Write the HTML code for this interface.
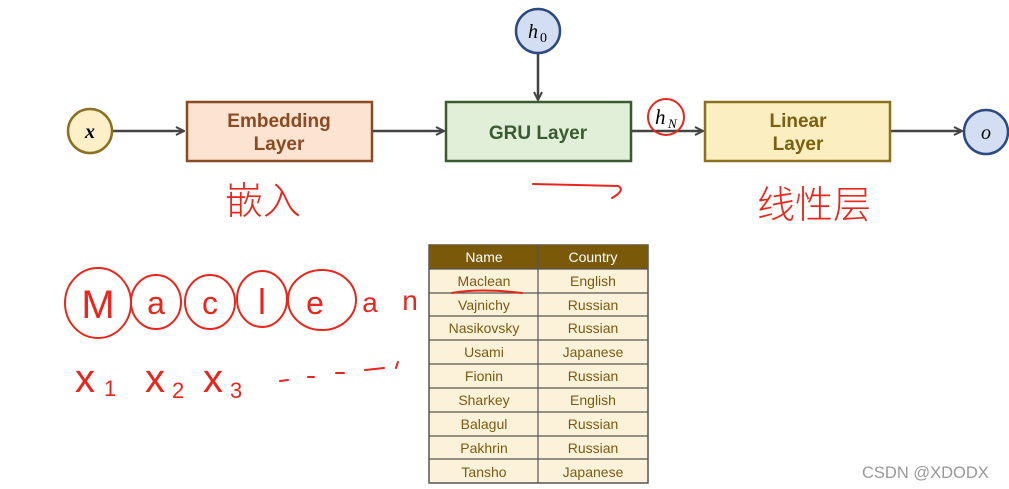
<!DOCTYPE html>
<html><head><meta charset="utf-8"><style>
html,body{margin:0;padding:0;background:#fff;}
svg{display:block;}
.box{font-family:"Liberation Sans","DejaVu Sans",sans-serif;font-weight:bold;font-size:19px;}
.tb{font-family:"Liberation Sans","DejaVu Sans",sans-serif;font-size:14px;fill:#7a5a10;}
.r{fill:none;stroke:#e8261c;stroke-width:2;stroke-linecap:round;stroke-linejoin:round;}
.rt{font-family:"Liberation Sans",sans-serif;fill:#e8261c;}
</style></head><body>
<svg width="1009" height="489" viewBox="0 0 1009 489" xmlns="http://www.w3.org/2000/svg">
<defs><marker id="ar" markerWidth="10" markerHeight="10" refX="9" refY="5" orient="auto" markerUnits="userSpaceOnUse"><path d="M1,1 L9,5 L1,9" fill="none" stroke="#444" stroke-width="2"/></marker></defs>
<g stroke="#444" stroke-width="2.5" fill="none">
<line x1="112" y1="131" x2="184" y2="131" marker-end="url(#ar)"/>
<line x1="372" y1="131" x2="444" y2="131" marker-end="url(#ar)"/>
<line x1="538" y1="53" x2="538" y2="100" marker-end="url(#ar)"/>
<line x1="631" y1="131" x2="703" y2="131" marker-end="url(#ar)"/>
<line x1="890" y1="131" x2="962" y2="131" marker-end="url(#ar)"/>
</g>
<circle cx="90" cy="131" r="22" fill="#fdf0c8" stroke="#8a7020" stroke-width="2.5"/>
<text x="90" y="138" text-anchor="middle" font-family="Liberation Serif,serif" font-style="italic" font-weight="bold" font-size="20">x</text>
<circle cx="538" cy="31" r="22" fill="#d4def2" stroke="#2c4a80" stroke-width="2.5"/>
<text x="528" y="38" font-family="Liberation Serif,serif" font-style="italic" font-size="20">h</text><text x="540" y="42" font-family="Liberation Serif,serif" font-size="14">0</text>
<circle cx="986" cy="132" r="22" fill="#d4def2" stroke="#2c4a80" stroke-width="2.5"/>
<text x="986" y="139" text-anchor="middle" font-family="Liberation Serif,serif" font-style="italic" font-size="20">o</text>
<rect x="187" y="102" width="185" height="59" fill="#fde3d2" stroke="#8a4a22" stroke-width="2.5"/>
<text class="box" fill="#8a4a22" x="279" y="127" text-anchor="middle">Embedding</text>
<text class="box" fill="#8a4a22" x="279" y="150" text-anchor="middle">Layer</text>
<rect x="446" y="102" width="185" height="59" fill="#e2efd8" stroke="#3a5a30" stroke-width="2.5"/>
<text class="box" fill="#3a5a30" x="538" y="139" text-anchor="middle">GRU Layer</text>
<rect x="705" y="102" width="185" height="59" fill="#fbeec0" stroke="#8a7020" stroke-width="2.5"/>
<text class="box" fill="#7a6010" x="798" y="127" text-anchor="middle">Linear</text>
<text class="box" fill="#7a6010" x="798" y="150" text-anchor="middle">Layer</text>
<text x="655" y="124" font-family="Liberation Serif,serif" font-style="italic" font-size="21">h</text><text x="668" y="128" font-family="Liberation Serif,serif" font-style="italic" font-size="13">N</text>
<ellipse class="r" cx="666" cy="117" rx="18" ry="18"/>
<!-- table -->
<rect x="429" y="245" width="219" height="238" fill="#fcf2da" stroke="#555" stroke-width="1.5"/>
<rect x="429" y="245" width="219" height="24" fill="#7a5a08"/>
<g stroke="#555" stroke-width="1.2">
<line x1="538" y1="245" x2="538" y2="483"/>
<line x1="429" y1="269" x2="648" y2="269"/><line x1="429" y1="293" x2="648" y2="293"/><line x1="429" y1="316" x2="648" y2="316"/><line x1="429" y1="340" x2="648" y2="340"/><line x1="429" y1="364" x2="648" y2="364"/><line x1="429" y1="388" x2="648" y2="388"/><line x1="429" y1="412" x2="648" y2="412"/><line x1="429" y1="436" x2="648" y2="436"/><line x1="429" y1="459" x2="648" y2="459"/>
</g>
<g class="tb" text-anchor="middle">
<text x="484" y="262" style="fill:#fff">Name</text><text x="593" y="262" style="fill:#fff">Country</text>
<text x="484" y="286">Maclean</text><text x="593" y="286">English</text>
<text x="484" y="310">Vajnichy</text><text x="593" y="310">Russian</text>
<text x="484" y="333">Nasikovsky</text><text x="593" y="333">Russian</text>
<text x="484" y="357">Usami</text><text x="593" y="357">Japanese</text>
<text x="484" y="381">Fionin</text><text x="593" y="381">Russian</text>
<text x="484" y="405">Sharkey</text><text x="593" y="405">English</text>
<text x="484" y="429">Balagul</text><text x="593" y="429">Russian</text>
<text x="484" y="453">Pakhrin</text><text x="593" y="453">Russian</text>
<text x="484" y="477">Tansho</text><text x="593" y="477">Japanese</text>
</g>
<path class="r" d="M452,293 Q480,288 522,293"/>
<!-- handwriting -->
<path class="r" d="M533,184 L618,186 Q626,190 612,198"/>
<text class="rt" x="225" y="214" font-size="38" style="font-family:'Noto Sans CJK SC',sans-serif;font-weight:300">嵌入</text>
<text class="rt" x="757" y="218" font-size="38" style="font-family:'Noto Sans CJK SC',sans-serif;font-weight:300">线性层</text>
<ellipse class="r" cx="98" cy="303" rx="33" ry="35"/>
<ellipse class="r" cx="156" cy="302" rx="25" ry="27"/>
<ellipse class="r" cx="210" cy="302" rx="25" ry="27"/>
<ellipse class="r" cx="262" cy="299" rx="25" ry="28"/>
<ellipse class="r" cx="322" cy="300" rx="34" ry="30"/>
<text class="rt" x="98" y="318" text-anchor="middle" font-size="40">M</text>
<text class="rt" x="156" y="314" text-anchor="middle" font-size="32">a</text>
<text class="rt" x="210" y="314" text-anchor="middle" font-size="32">c</text>
<text class="rt" x="262" y="314" text-anchor="middle" font-size="36">l</text>
<text class="rt" x="315" y="314" text-anchor="middle" font-size="32">e</text>
<text class="rt" x="370" y="312" text-anchor="middle" font-size="28">a</text>
<text class="rt" x="410" y="310" text-anchor="middle" font-size="28">n</text>
<text class="rt" x="75" y="392" font-size="40">x</text><text class="rt" x="104" y="396" font-size="22">1</text>
<text class="rt" x="145" y="392" font-size="40">x</text><text class="rt" x="172" y="398" font-size="22">2</text>
<text class="rt" x="203" y="392" font-size="40">x</text><text class="rt" x="230" y="398" font-size="22">3</text>
<path class="r" d="M280,381 L288,380 M308,377 L314,377 M336,373 L344,373 M365,370 L384,368 M398,362 L396,368"/>
<text x="862" y="478" font-family="Liberation Sans,sans-serif" font-size="16.5" fill="#999">CSDN @XDODX</text>
</svg>
</body></html>
